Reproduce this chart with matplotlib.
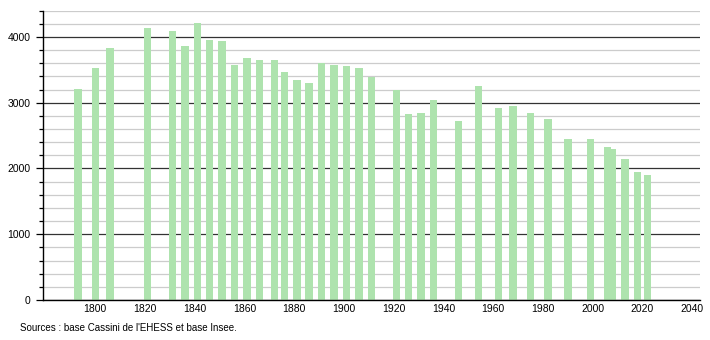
import matplotlib
matplotlib.use("Agg")
import matplotlib.pyplot as plt
from matplotlib.ticker import MultipleLocator

years = [1793, 1800, 1806, 1821, 1831, 1836, 1841, 1846, 1851, 1856,
         1861, 1866, 1872, 1876, 1881, 1886, 1891, 1896, 1901, 1906,
         1911, 1921, 1926, 1931, 1936, 1946, 1954, 1962, 1968, 1975,
         1982, 1990, 1999, 2006, 2008, 2013, 2018, 2022]
population = [3204, 3524, 3838, 4142, 4086, 3858, 4208, 3949, 3934, 3569,
              3675, 3650, 3650, 3468, 3346, 3295, 3600, 3570, 3559, 3529,
              3397, 3189, 2824, 2839, 3042, 2722, 3250, 2920, 2950, 2839,
              2753, 2444, 2444, 2327, 2297, 2140, 1947, 1901]
x_ticks = [1800, 1820, 1840, 1860, 1880, 1900, 1920, 1940, 1960, 1980, 2000, 2020, 2040]
y_ticks = [0, 1000, 2000, 3000, 4000]
source_text = "Sources : base Cassini de l'EHESS et base Insee."

plt.rcParams['font.family'] = ['Liberation Sans', 'DejaVu Sans']

fig = plt.figure(figsize=(7.1, 3.4), dpi=100)
ax = fig.add_axes([0.0606, 0.1176, 0.925, 0.851])

ax.set_xlim(1779, 2043)
ax.set_ylim(0, 4400)

ax.yaxis.set_minor_locator(MultipleLocator(200))
ax.set_yticks(y_ticks)
ax.set_xticks(x_ticks)
ax.grid(which='minor', axis='y', color='#cccccc', linewidth=0.9)
ax.grid(which='major', axis='y', color='#333333', linewidth=0.9)
ax.set_axisbelow(True)

ax.bar(years, population, width=3.0, color='#aee3ae', linewidth=0, zorder=2)

for s in ['top', 'right']:
    ax.spines[s].set_visible(False)
ax.spines['left'].set_color('black')
ax.spines['bottom'].set_color('black')
ax.spines['left'].set_linewidth(1.0)
ax.spines['bottom'].set_linewidth(1.0)

ax.tick_params(axis='y', which='major', length=5, width=0.9, labelsize=7.5, pad=4)
ax.tick_params(axis='y', which='minor', length=3, width=0.9)
ax.tick_params(axis='x', which='major', length=0, labelsize=7.5, pad=3)

fig.text(0.028, 0.035, source_text, fontsize=7, ha='left', va='center')

fig.savefig("out.png", dpi=100)
